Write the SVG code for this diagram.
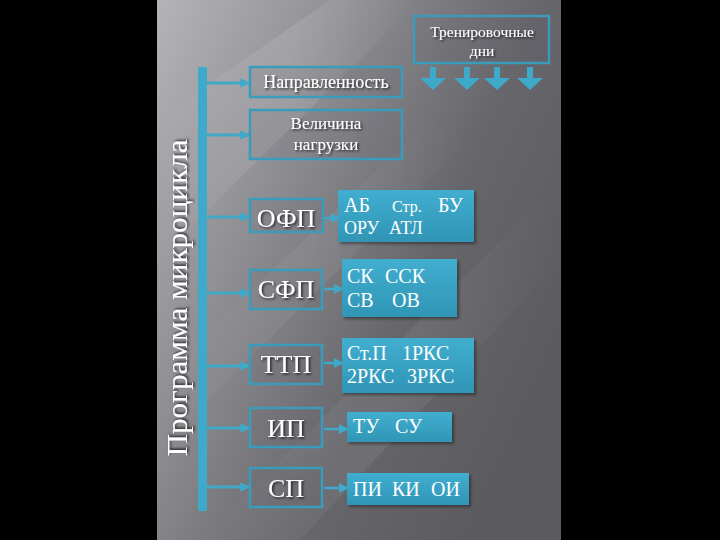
<svg xmlns="http://www.w3.org/2000/svg" width="720" height="540" viewBox="0 0 720 540">
<defs>
<linearGradient id="bg" x1="0" y1="0" x2="1" y2="0.6">
<stop offset="0" stop-color="#b4b3b8"/>
<stop offset="0.35" stop-color="#8f8e93"/>
<stop offset="0.7" stop-color="#67666b"/>
<stop offset="1" stop-color="#5c5b60"/>
</linearGradient>
<linearGradient id="streak" x1="0" y1="0" x2="1" y2="0">
<stop offset="0" stop-color="#ffffff" stop-opacity="0"/>
<stop offset="0.5" stop-color="#ffffff" stop-opacity="0.12"/>
<stop offset="1" stop-color="#ffffff" stop-opacity="0"/>
</linearGradient>
<linearGradient id="blue" x1="0" y1="0" x2="0" y2="1">
<stop offset="0" stop-color="#41aed0"/>
<stop offset="1" stop-color="#3095b5"/>
</linearGradient>
<filter id="sh" x="-20%" y="-20%" width="140%" height="140%">
<feDropShadow dx="1.5" dy="1.5" stdDeviation="1" flood-color="#000" flood-opacity="0.7"/>
</filter>
<filter id="bsh" x="-10%" y="-10%" width="125%" height="130%">
<feDropShadow dx="2" dy="2" stdDeviation="1.5" flood-color="#000" flood-opacity="0.4"/>
</filter>
<marker id="ah" viewBox="0 0 10 10" refX="9" refY="5" markerWidth="3.2" markerHeight="3.2" orient="auto" markerUnits="strokeWidth">
<path d="M0,0 L10,5 L0,10 z" fill="#3fa9c9"/>
</marker>
<marker id="ah2" viewBox="0 0 10 10" refX="9" refY="5" markerWidth="4" markerHeight="4" orient="auto" markerUnits="strokeWidth">
<path d="M0,0 L10,5 L0,10 z" fill="#3fa9c9"/>
</marker>
</defs>
<style>
.ob{fill:#5a5a60;fill-opacity:0.12;stroke:#3a9cbd;stroke-width:2.5}
.bb{fill:url(#blue);filter:url(#bsh)}
.wt{font-family:"Liberation Serif","DejaVu Serif",serif;fill:#ffffff;filter:url(#sh)}
.bt{font-family:"Liberation Serif","DejaVu Serif",serif;fill:#ffffff;font-size:20px}
.cn{stroke:#3fa9c9;stroke-width:3;fill:none}
.cn2{stroke:#3fa9c9;stroke-width:2.5;fill:none}
</style>
<rect x="0" y="0" width="720" height="540" fill="#000"/>
<rect x="157" y="0" width="404" height="540" fill="url(#bg)"/>
<g>
<polygon points="157,120 330,0 420,0 157,260" fill="url(#streak)"/>
<polygon points="200,540 561,180 561,260 300,540" fill="url(#streak)" opacity="0.6"/>
<polygon points="157,380 430,120 470,140 157,450" fill="url(#streak)" opacity="0.5"/>
</g>

<g id="title">
<text class="wt" transform="translate(187,298) rotate(-90)" font-size="30" text-anchor="middle" textLength="317" lengthAdjust="spacingAndGlyphs">Программа микроцикла</text>
</g>

<g id="connectors">
<rect x="198" y="67" width="9" height="444" fill="#3fa9c9"/>
<line class="cn" x1="207" y1="83" x2="249" y2="83" marker-end="url(#ah)"/>
<line class="cn" x1="207" y1="135" x2="249" y2="135" marker-end="url(#ah)"/>
<line class="cn" x1="207" y1="217" x2="249" y2="217" marker-end="url(#ah)"/>
<line class="cn" x1="207" y1="293" x2="249" y2="293" marker-end="url(#ah)"/>
<line class="cn" x1="207" y1="366" x2="249" y2="366" marker-end="url(#ah)"/>
<line class="cn" x1="207" y1="428" x2="249" y2="428" marker-end="url(#ah)"/>
<line class="cn" x1="207" y1="487" x2="249" y2="487" marker-end="url(#ah)"/>
<line class="cn2" x1="324" y1="218" x2="340" y2="218" marker-end="url(#ah2)"/>
<line class="cn2" x1="324" y1="289" x2="343" y2="289" marker-end="url(#ah2)"/>
<line class="cn2" x1="324" y1="363" x2="343" y2="363" marker-end="url(#ah2)"/>
<line class="cn2" x1="324" y1="429" x2="348" y2="429" marker-end="url(#ah2)"/>
<line class="cn2" x1="324" y1="488" x2="348" y2="488" marker-end="url(#ah2)"/>
<g fill="#3fa9c9">
<path d="M430,67 h6 v11 h10 l-13,12 l-13,-12 h10 z"/>
<path d="M464,67 h6 v11 h10 l-13,12 l-13,-12 h10 z"/>
<path d="M494,67 h6 v11 h10 l-13,12 l-13,-12 h10 z"/>
<path d="M527,67 h6 v11 h10 l-13,12 l-13,-12 h10 z"/>
</g>
</g>

<g id="days">
<rect class="ob" x="414" y="16" width="135" height="47"/>
<text class="wt" x="482" y="37" font-size="15.5" text-anchor="middle">Тренировочные</text>
<text class="wt" x="482" y="56" font-size="15.5" text-anchor="middle">дни</text>
</g>

<g id="napr">
<rect class="ob" x="250" y="67" width="152" height="30"/>
<text class="wt" x="326" y="88" font-size="18" text-anchor="middle">Направленность</text>
</g>

<g id="velichina">
<rect class="ob" x="250" y="110" width="152" height="49"/>
<text class="wt" x="326" y="129" font-size="17" text-anchor="middle">Величина</text>
<text class="wt" x="326" y="150" font-size="17" text-anchor="middle">нагрузки</text>
</g>

<g id="ofp">
<rect class="ob" x="250" y="199" width="73" height="33"/>
<text class="wt" x="286" y="227" font-size="26" text-anchor="middle">ОФП</text>
</g>
<g id="ofp-list">
<rect class="bb" x="338" y="190" width="136" height="52"/>
<text class="bt" x="344" y="212">АБ</text>
<text class="bt" x="392" y="212" style="font-size:16px">Стр.</text>
<text class="bt" x="438" y="212">БУ</text>
<text class="bt" x="344" y="234" style="font-size:18px">ОРУ</text>
<text class="bt" x="389" y="234" style="font-size:18px">АТЛ</text>
</g>

<g id="sfp">
<rect class="ob" x="250" y="270" width="72" height="39"/>
<text class="wt" x="286" y="298" font-size="26" text-anchor="middle">СФП</text>
</g>
<g id="sfp-list">
<rect class="bb" x="342" y="259" width="115" height="58"/>
<text class="bt" x="347" y="283">СК</text>
<text class="bt" x="385" y="283">ССК</text>
<text class="bt" x="347" y="307">СВ</text>
<text class="bt" x="392" y="307">ОВ</text>
</g>

<g id="ttp">
<rect class="ob" x="250" y="345" width="72" height="39"/>
<text class="wt" x="286" y="373" font-size="26" text-anchor="middle">ТТП</text>
</g>
<g id="ttp-list">
<rect class="bb" x="342" y="338" width="132" height="55"/>
<text class="bt" x="347" y="360">Ст.П</text>
<text class="bt" x="402" y="360">1РКС</text>
<text class="bt" x="347" y="383">2РКС</text>
<text class="bt" x="407" y="383">3РКС</text>
</g>

<g id="ip">
<rect class="ob" x="250" y="408" width="72" height="39"/>
<text class="wt" x="286" y="437" font-size="26" text-anchor="middle">ИП</text>
</g>
<g id="ip-list">
<rect class="bb" x="347" y="412" width="105" height="30"/>
<text class="bt" x="353" y="433">ТУ</text>
<text class="bt" x="395" y="433">СУ</text>
</g>

<g id="sp">
<rect class="ob" x="250" y="468" width="72" height="39"/>
<text class="wt" x="286" y="497" font-size="26" text-anchor="middle">СП</text>
</g>
<g id="sp-list">
<rect class="bb" x="347" y="473" width="122" height="32"/>
<text class="bt" x="353" y="496">ПИ</text>
<text class="bt" x="392" y="496">КИ</text>
<text class="bt" x="431" y="496">ОИ</text>
</g>
</svg>
